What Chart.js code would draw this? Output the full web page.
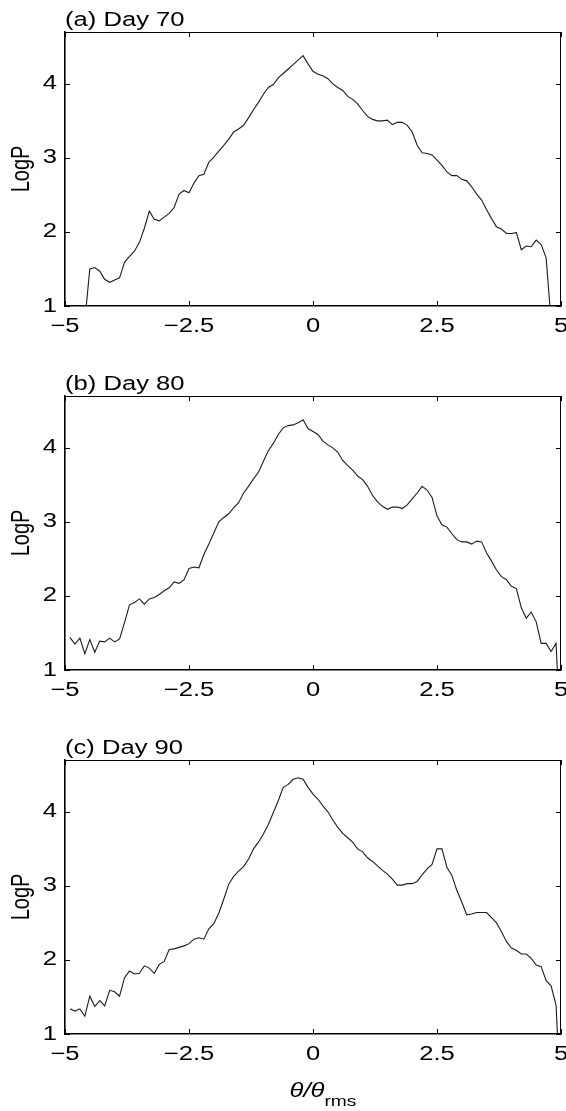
<!DOCTYPE html>
<html><head><meta charset="utf-8">
<script src="https://cdn.jsdelivr.net/npm/chart.js@4.4.1/dist/chart.umd.min.js"></script>
<style>
html,body{margin:0;padding:0;background:#fff;}
#wrap{position:relative;width:566px;height:1111px;overflow:hidden;background:#fff;}
.panel{position:absolute;left:0;width:566px;}
canvas{display:block;}
</style></head><body>
<div id="wrap">
<div class="panel" style="top:0;height:364px"><canvas id="c1"></canvas></div>
<div class="panel" style="top:364px;height:364px"><canvas id="c2"></canvas></div>
<div class="panel" style="top:728px;height:383px"><canvas id="c3"></canvas></div>
</div>
<script>
const panelTitles = ['(a) Day 70', '(b) Day 80', '(c) Day 90'];
const yAxisTitle = 'LogP';
const xAxisTitleMain = 'θ/θ';
const xAxisTitleSub = 'rms';
const xTickValues = [-5, -2.5, 0, 2.5, 5];
const xTickLabels = ['−5', '−2.5', '0', '2.5', '5'];
const yTickValues = [1, 2, 3, 4];
const yTickLabels = ['1', '2', '3', '4'];

const xDay70 = [-4.6,-4.5,-4.4,-4.3,-4.2,-4.1,-4.0,-3.9,-3.8,-3.7,-3.6,-3.5,-3.4,-3.3,-3.2,-3.1,-3.0,-2.9,-2.8,-2.7,-2.6,-2.5,-2.4,-2.3,-2.2,-2.1,-2.0,-1.9,-1.8,-1.7,-1.6,-1.5,-1.4,-1.3,-1.2,-1.1,-1.0,-0.9,-0.8,-0.7,-0.6,-0.5,-0.4,-0.3,-0.2,-0.1,0.0,0.1,0.2,0.3,0.4,0.5,0.6,0.7,0.8,0.9,1.0,1.1,1.2,1.3,1.4,1.5,1.6,1.7,1.8,1.9,2.0,2.1,2.2,2.3,2.4,2.5,2.6,2.7,2.8,2.9,3.0,3.1,3.2,3.3,3.4,3.5,3.6,3.7,3.8,3.9,4.0,4.1,4.2,4.3,4.4,4.5,4.6,4.7,4.8];
const logPDay70 = [0.8,1.50,1.52,1.47,1.36,1.32,1.35,1.38,1.59,1.67,
  1.74,1.86,2.05,2.28,2.17,2.15,2.20,2.25,2.33,2.51,
  2.56,2.53,2.66,2.76,2.78,2.94,3.01,3.09,3.17,3.25,
  3.35,3.39,3.44,3.54,3.65,3.75,3.86,3.95,3.99,4.08,
  4.14,4.20,4.26,4.32,4.38,4.27,4.17,4.13,4.11,4.07,
  4.00,3.95,3.91,3.83,3.79,3.73,3.64,3.56,3.52,3.50,
  3.50,3.51,3.45,3.48,3.48,3.44,3.35,3.17,3.07,3.06,
  3.04,2.97,2.90,2.81,2.76,2.76,2.71,2.69,2.61,2.51,
  2.43,2.30,2.18,2.07,2.04,1.98,1.98,1.99,1.76,1.81,
  1.80,1.89,1.83,1.65,0.8];

const xDay80 = [-4.9,-4.8,-4.7,-4.6,-4.5,-4.4,-4.3,-4.2,-4.1,-4.0,-3.9,-3.8,-3.7,-3.6,-3.5,-3.4,-3.3,-3.2,-3.1,-3.0,-2.9,-2.8,-2.7,-2.6,-2.5,-2.4,-2.3,-2.2,-2.1,-2.0,-1.9,-1.8,-1.7,-1.6,-1.5,-1.4,-1.3,-1.2,-1.1,-1.0,-0.9,-0.8,-0.7,-0.6,-0.5,-0.4,-0.3,-0.2,-0.1,0.0,0.1,0.2,0.3,0.4,0.5,0.6,0.7,0.8,0.9,1.0,1.1,1.2,1.3,1.4,1.5,1.6,1.7,1.8,1.9,2.0,2.1,2.2,2.3,2.4,2.5,2.6,2.7,2.8,2.9,3.0,3.1,3.2,3.3,3.4,3.5,3.6,3.7,3.8,3.9,4.0,4.1,4.2,4.3,4.4,4.5,4.6,4.7,4.8,4.9,5.0];
const logPDay80 = [1.44,1.35,1.43,1.22,1.41,1.24,1.39,1.38,1.43,1.38,
  1.42,1.64,1.88,1.91,1.96,1.89,1.96,1.98,2.02,2.07,
  2.11,2.19,2.17,2.22,2.37,2.39,2.38,2.56,2.70,2.85,
  3.00,3.06,3.11,3.19,3.26,3.39,3.48,3.58,3.67,3.82,
  3.96,4.06,4.18,4.27,4.30,4.31,4.34,4.38,4.26,4.22,
  4.18,4.09,4.04,4.00,3.94,3.83,3.76,3.70,3.62,3.57,
  3.48,3.36,3.27,3.21,3.17,3.20,3.20,3.18,3.23,3.31,
  3.39,3.48,3.43,3.33,3.08,2.96,2.93,2.84,2.76,2.73,
  2.73,2.70,2.74,2.73,2.58,2.47,2.35,2.26,2.22,2.13,
  2.10,1.84,1.70,1.78,1.65,1.36,1.36,1.25,1.36,0.0];

const xDay90 = [-4.9,-4.8,-4.7,-4.6,-4.5,-4.4,-4.3,-4.2,-4.1,-4.0,-3.9,-3.8,-3.7,-3.6,-3.5,-3.4,-3.3,-3.2,-3.1,-3.0,-2.9,-2.8,-2.7,-2.6,-2.5,-2.4,-2.3,-2.2,-2.1,-2.0,-1.9,-1.8,-1.7,-1.6,-1.5,-1.4,-1.3,-1.2,-1.1,-1.0,-0.9,-0.8,-0.7,-0.6,-0.5,-0.4,-0.3,-0.2,-0.1,0.0,0.1,0.2,0.3,0.4,0.5,0.6,0.7,0.8,0.9,1.0,1.1,1.2,1.3,1.4,1.5,1.6,1.7,1.8,1.9,2.0,2.1,2.2,2.3,2.4,2.5,2.6,2.7,2.8,2.9,3.0,3.1,3.2,3.3,3.4,3.5,3.6,3.7,3.8,3.9,4.0,4.1,4.2,4.3,4.4,4.5,4.6,4.7,4.8,4.9,5.0];
const logPDay90 = [1.34,1.31,1.34,1.24,1.51,1.37,1.45,1.38,1.59,1.57,
  1.51,1.76,1.85,1.81,1.82,1.92,1.89,1.82,1.94,1.98,
  2.14,2.15,2.17,2.19,2.22,2.28,2.30,2.28,2.42,2.49,
  2.63,2.82,3.02,3.13,3.20,3.26,3.36,3.50,3.59,3.70,
  3.83,3.99,4.15,4.33,4.37,4.44,4.46,4.44,4.33,4.24,
  4.17,4.08,4.00,3.89,3.79,3.71,3.65,3.59,3.50,3.46,
  3.38,3.33,3.27,3.21,3.16,3.09,3.01,3.01,3.03,3.03,
  3.06,3.15,3.23,3.29,3.50,3.50,3.25,3.14,2.94,2.78,
  2.61,2.62,2.64,2.64,2.64,2.57,2.50,2.38,2.25,2.16,
  2.13,2.08,2.08,2.02,1.93,1.91,1.72,1.65,1.39,0.0];

const FONT = "'Liberation Sans', Arial, Helvetica, sans-serif";
const INK = '#000';
const TEXT_STRETCH = 1.28;

// Text is drawn widened along the screen x direction (the reference lettering is stretched horizontally)
const stretch = {
  id: 'stretch',
  beforeDraw(chart) {
    const ctx = chart.ctx;
    if (ctx._origFillText) return;
    const orig = ctx.fillText;
    ctx._origFillText = orig;
    ctx.fillText = function (text, x, y, maxWidth) {
      const m = this.getTransform();
      const rotated = Math.abs(m.b) > 1e-6 || Math.abs(m.c) > 1e-6;
      this.save();
      this.translate(x, y);
      if (rotated) this.scale(1, TEXT_STRETCH); else this.scale(TEXT_STRETCH, 1);
      if (maxWidth === undefined) orig.call(this, text, 0, 0);
      else orig.call(this, text, 0, 0, rotated ? maxWidth : maxWidth / TEXT_STRETCH);
      this.restore();
    };
  },
  afterDraw(chart) {
    const ctx = chart.ctx;
    if (ctx._origFillText) { ctx.fillText = ctx._origFillText; delete ctx._origFillText; }
  }
};

const decor = {
  id: 'decor',
  afterDraw(chart, args, opts) {
    const {ctx, chartArea: a, scales: {x, y}} = chart;
    ctx.save();
    ctx.strokeStyle = INK;
    ctx.lineWidth = 1;
    ctx.beginPath();
    ctx.moveTo(a.left, a.top + 0.5); ctx.lineTo(a.right, a.top + 0.5);
    ctx.moveTo(a.right - 0.5, a.top); ctx.lineTo(a.right - 0.5, a.bottom);
    ctx.stroke();
    const tl = 5;
    ctx.beginPath();
    x.ticks.forEach(t => {
      const px = Math.round(x.getPixelForValue(t.value)) + 0.5;
      ctx.moveTo(px, a.bottom); ctx.lineTo(px, a.bottom - tl);
      ctx.moveTo(px, a.top); ctx.lineTo(px, a.top + tl);
    });
    y.ticks.forEach(t => {
      const py = Math.round(y.getPixelForValue(t.value)) + 0.5;
      ctx.moveTo(a.left, py); ctx.lineTo(a.left + tl, py);
      ctx.moveTo(a.right, py); ctx.lineTo(a.right - tl, py);
    });
    ctx.stroke();
    ctx.fillStyle = INK;
    ctx.font = `20px ${FONT}`;
    ctx.textAlign = 'left';
    ctx.textBaseline = 'alphabetic';
    ctx.fillText(opts.title, a.left, a.top - 6);
    if (opts.showXTitle) {
      const mainFont = `italic 20px ${FONT}`;
      const subFont = `15px ${FONT}`;
      ctx.font = mainFont;
      const w1 = ctx.measureText(xAxisTitleMain).width * TEXT_STRETCH;
      ctx.font = subFont;
      const w2 = ctx.measureText(xAxisTitleSub).width * TEXT_STRETCH;
      const cx = (a.left + a.right) / 2 + 10;
      const x0 = cx - (w1 + w2) / 2;
      const base = a.bottom + 63;
      ctx.font = mainFont;
      ctx.fillText(xAxisTitleMain, x0, base);
      ctx.font = subFont;
      ctx.fillText(xAxisTitleSub, x0 + w1, base + 9);
    }
    ctx.restore();
  }
};

function makeChart(id, xs, ys, title, showXTitle, xScaleHeight) {
  const points = xs.map((xv, i) => ({x: xv, y: ys[i]}));
  return new Chart(document.getElementById(id), {
    type: 'line',
    data: { datasets: [{ data: points, borderColor: '#1c1c1c', borderWidth: 1.1, pointRadius: 0, tension: 0, fill: false, clip: 0 }] },
    options: {
      responsive: true, maintainAspectRatio: false, animation: false, events: [],
      layout: { padding: { top: 32, right: 5, left: 0, bottom: 0 } },
      plugins: { legend: {display: false}, tooltip: {enabled: false}, title: {display: false},
                 decor: { title, showXTitle } },
      scales: {
        x: {
          type: 'linear', min: -5, max: 5, position: 'bottom',
          afterBuildTicks: s => { s.ticks = xTickValues.map(v => ({value: v})); },
          afterFit: s => { s.height = xScaleHeight; s.paddingLeft = 0; s.paddingRight = 0; },
          grid: { display: false, drawTicks: false },
          border: { display: true, color: INK, width: 1.6 },
          ticks: { color: INK, font: {family: FONT, size: 20}, padding: 8, maxRotation: 0, autoSkip: false,
                   callback: (v, i) => xTickLabels[i] }
        },
        y: {
          type: 'linear', min: 1, max: 4.7, position: 'left',
          afterBuildTicks: s => { s.ticks = yTickValues.map(v => ({value: v})); },
          afterFit: s => { s.width = 65; },
          grid: { display: false, drawTicks: false },
          border: { display: true, color: INK, width: 1.6 },
          ticks: { color: INK, font: {family: FONT, size: 20}, padding: 8, autoSkip: false,
                   callback: (v, i) => yTickLabels[i] },
          title: { display: true, text: yAxisTitle, color: INK, font: {family: FONT, size: 20}, padding: {top: 10, bottom: 0} }
        }
      }
    },
    plugins: [decor, stretch]
  });
}

makeChart('c1', xDay70, logPDay70, panelTitles[0], false, 58);
makeChart('c2', xDay80, logPDay80, panelTitles[1], false, 58);
makeChart('c3', xDay90, logPDay90, panelTitles[2], true, 77);
</script>
</body></html>
